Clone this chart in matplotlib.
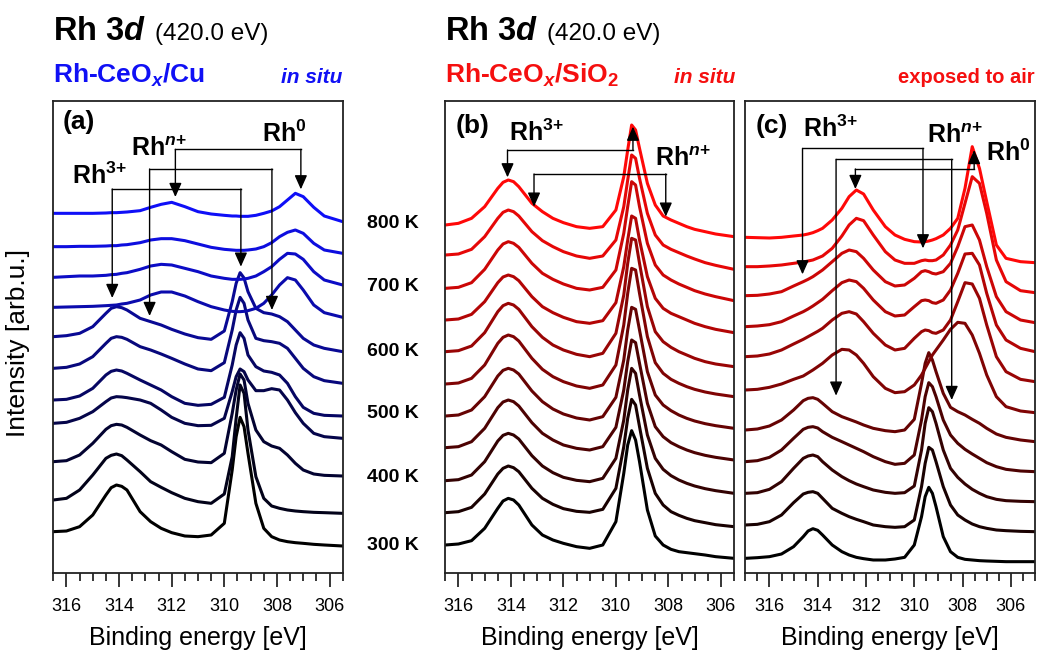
import matplotlib
matplotlib.use("Agg")
import matplotlib.pyplot as plt
from matplotlib.ticker import MultipleLocator

plt.rcParams['font.family'] = ['Liberation Sans', 'DejaVu Sans']
plt.rcParams['mathtext.fontset'] = 'custom'
plt.rcParams['mathtext.rm'] = 'Liberation Sans:bold'
plt.rcParams['mathtext.it'] = 'Liberation Sans:italic:bold'
plt.rcParams['mathtext.bf'] = 'Liberation Sans:bold'
plt.rcParams['mathtext.sf'] = 'Liberation Sans:bold'

# ---------------- data ----------------
temperatures = [800, 750, 700, 650, 600, 550, 500, 450, 400, 350, 300]
temp_labels = ["800 K", "700 K", "600 K", "500 K", "400 K", "300 K"]
tick_values = [316, 314, 312, 310, 308, 306]

energy_ab = [316.5, 316.0, 315.5, 315.0, 314.5, 314.3, 314.1, 313.9, 313.7, 313.2, 312.8, 312.4,
             312.0, 311.5, 311.0, 310.5, 310.0, 309.7, 309.55, 309.4, 309.25, 309.1,
             308.8, 308.5, 308.2, 307.9, 307.6, 307.3, 307.0, 306.6, 306.2, 305.5]

energy_c = [317.0, 316.5, 316.0, 315.5, 315.0, 314.6, 314.4, 314.2, 314.0, 313.8, 313.4, 313.0,
            312.7, 312.4, 312.1, 311.7, 311.2, 310.8, 310.4, 310.0, 309.7, 309.55,
            309.4, 309.25, 309.1, 308.8, 308.5, 308.2, 307.9, 307.6, 307.3, 307.0,
            306.6, 306.2, 305.6, 305.0]

# (a) Rh-CeOx/Cu in situ, 800 K (top) ... 300 K (bottom), stacked intensity
spectra_cu_insitu = [
    [1370,1370,1370,1370,1371,1372,1372,1373,1374,1378,1388,1397,1403,1390,1375,1368,1364,1362,1362,1361,1361,1361,1364,1370,1377,1390,1410,1430,1420,1388,1362,1345],
    [1270,1270,1271,1271,1272,1273,1273,1275,1276,1282,1290,1294,1294,1288,1278,1268,1262,1260,1259,1259,1259,1260,1263,1270,1282,1300,1313,1320,1310,1280,1260,1250],
    [1178,1180,1182,1182,1184,1186,1187,1190,1192,1202,1212,1217,1215,1205,1195,1182,1175,1172,1172,1172,1173,1175,1182,1195,1210,1232,1250,1248,1232,1195,1170,1155],
    [1088,1089,1090,1091,1093,1094,1095,1098,1100,1110,1125,1134,1134,1122,1105,1090,1080,1076,1075,1075,1076,1078,1085,1100,1125,1155,1177,1170,1140,1095,1072,1058],
    [1000,1003,1010,1030,1070,1085,1090,1087,1080,1055,1045,1035,1022,1008,997,992,1017,1105,1160,1192,1176,1135,1085,1072,1068,1060,1045,1020,995,975,965,955],
    [905,908,918,940,980,995,1000,998,992,970,960,948,935,918,903,898,922,1020,1080,1118,1100,1050,995,988,985,980,965,935,905,880,868,860],
    [810,812,822,845,885,896,900,897,890,870,855,840,820,800,794,797,818,915,975,1012,995,945,910,897,893,885,860,820,788,770,764,762],
    [740,743,755,775,805,816,820,819,817,810,800,780,758,740,733,734,755,835,880,903,895,870,838,838,844,840,810,772,740,710,700,695],
    [625,628,645,680,722,733,737,735,728,705,688,675,655,632,624,622,650,770,840,888,870,800,720,685,672,665,645,620,600,588,584,582],
    [510,515,540,585,635,644,648,643,630,595,565,548,532,515,505,500,528,640,755,855,830,720,580,515,492,485,480,477,475,473,472,470],
    [415,417,430,465,525,547,555,551,540,475,445,425,412,402,400,405,440,600,700,758,730,650,500,425,400,390,385,382,380,377,375,372],
]

# (b) Rh-CeOx/SiO2 in situ
spectra_sio2_insitu = [
    [1155,1160,1175,1210,1265,1283,1290,1285,1270,1220,1195,1175,1162,1150,1145,1150,1200,1300,1380,1455,1440,1385,1280,1215,1182,1170,1160,1150,1142,1135,1128,1120],
    [1065,1068,1082,1120,1175,1193,1200,1195,1182,1135,1108,1090,1075,1062,1055,1062,1110,1210,1290,1365,1355,1295,1190,1125,1095,1082,1072,1062,1053,1042,1034,1022],
    [965,968,982,1022,1080,1098,1105,1100,1088,1040,1010,992,978,965,960,968,1020,1130,1210,1285,1275,1210,1100,1035,1005,990,978,968,958,948,940,928],
    [870,873,887,925,982,999,1005,1000,988,940,910,892,878,865,860,868,922,1030,1110,1182,1175,1110,1000,935,905,890,880,870,860,850,842,832],
    [775,778,792,832,895,913,920,915,902,850,818,795,780,767,760,770,830,945,1040,1115,1110,1040,910,835,805,788,775,765,755,745,738,730],
    [678,681,695,735,800,818,825,820,807,755,722,700,685,672,665,675,735,855,950,1025,1020,950,820,742,710,692,680,670,662,654,648,640],
    [582,585,600,640,702,719,725,720,708,657,625,603,588,576,570,580,638,750,840,908,902,840,715,645,615,598,585,575,567,559,553,545],
    [487,490,505,545,607,624,630,625,612,562,530,510,495,485,480,490,548,660,745,810,802,740,620,550,520,502,490,480,472,464,458,450],
    [388,391,405,445,507,524,530,525,513,463,432,412,398,389,385,395,455,570,660,725,710,645,525,455,422,403,390,380,372,364,358,350],
    [292,295,308,348,408,425,432,427,415,365,335,317,304,296,293,302,365,490,575,632,615,550,425,350,315,295,284,275,268,262,256,250],
    [195,198,208,245,305,327,335,330,315,255,225,210,200,190,185,195,265,410,495,538,510,445,300,222,195,182,175,172,169,165,160,155],
]

# (c) Rh-CeOx/SiO2 exposed to air
spectra_sio2_air = [
    [1178,1177,1176,1178,1182,1185,1188,1192,1198,1205,1230,1265,1300,1320,1308,1260,1210,1185,1172,1165,1164,1165,1167,1170,1174,1185,1205,1235,1325,1450,1385,1285,1155,1115,1105,1102],
    [1090,1090,1092,1095,1100,1104,1107,1110,1116,1122,1145,1182,1215,1235,1228,1185,1135,1110,1100,1100,1108,1110,1108,1108,1110,1125,1155,1200,1280,1360,1340,1250,1110,1045,1018,1012],
    [1003,1004,1008,1015,1032,1045,1052,1060,1070,1080,1105,1130,1140,1135,1115,1080,1045,1032,1035,1055,1075,1078,1075,1070,1068,1075,1100,1150,1210,1215,1170,1090,1000,955,930,922],
    [910,912,916,925,942,955,963,972,982,992,1018,1042,1050,1045,1025,990,955,942,945,970,988,990,988,982,980,990,1020,1070,1128,1130,1095,1010,915,870,845,835],
    [820,822,828,840,858,872,880,888,896,905,930,950,955,948,925,890,855,840,845,875,895,900,898,892,890,900,930,985,1042,1038,995,915,820,775,752,745],
    [720,722,728,738,752,762,771,780,790,800,825,842,840,825,800,760,725,712,715,735,765,785,805,825,840,870,902,923,920,885,830,765,700,670,657,652],
    [600,603,612,630,660,688,695,697,692,680,655,640,632,624,615,605,598,595,600,632,740,800,832,810,775,710,668,655,645,632,620,605,588,578,570,565],
    [505,508,518,540,575,602,608,610,606,595,578,565,555,545,535,520,505,497,500,525,630,700,742,730,700,630,585,560,542,528,515,502,490,482,477,475],
    [410,412,422,445,485,515,522,525,520,505,480,460,448,438,430,420,413,410,412,432,540,620,667,655,620,540,485,458,438,422,410,400,392,388,386,385],
    [315,317,325,345,382,408,413,415,410,395,365,350,340,332,325,315,310,308,310,330,430,500,548,540,505,430,375,345,330,318,310,305,300,298,296,295],
    [215,217,220,228,250,280,297,304,299,285,255,235,225,218,214,210,210,213,218,255,340,400,428,410,370,280,235,218,212,210,208,207,206,205,205,205],
]

# ---------------- figure ----------------
W, H = 1039, 657
fig = plt.figure(figsize=(W / 100, H / 100), dpi=100)
fig.patch.set_facecolor('white')

def fx(px):
    return px / W

def fy(py):
    return 1 - py / H

bottom = fy(573)
height = 472 / H
ax_a = fig.add_axes([fx(53.3), bottom, 289.4 / W, height])
ax_b = fig.add_axes([fx(445.3), bottom, 288.7 / W, height])
ax_c = fig.add_axes([fx(745.3), bottom, 289.7 / W, height])

n = len(temperatures)
blues = [(0.06 * (1 - i / (n - 1)), 0.06 * (1 - i / (n - 1)), 0.97 * (1 - i / (n - 1))) for i in range(n)]
reds = [(1.0 * (1 - i / (n - 1)), 0.03 * (1 - i / (n - 1)), 0.03 * (1 - i / (n - 1))) for i in range(n)]

panels = [
    (ax_a, energy_ab, spectra_cu_insitu, blues, (316.5, 305.5), (291, 1707)),
    (ax_b, energy_ab, spectra_sio2_insitu, reds, (316.5, 305.5), (111, 1527)),
    (ax_c, energy_c, spectra_sio2_air, reds, (317.0, 305.0), (171, 1587)),
]

for ax, en, spectra, cols, xl, yl in panels:
    for k in range(n - 1, -1, -1):
        ax.plot(en, spectra[k], color=cols[k], lw=2.2, solid_joinstyle='round',
                solid_capstyle='round')
    ax.set_xlim(*xl)
    ax.set_ylim(*yl)
    ax.set_yticks([])
    ax.set_xticks(tick_values)
    ax.set_xticklabels([str(t) for t in tick_values], fontsize=13)
    ax.xaxis.set_minor_locator(MultipleLocator(0.5))
    ax.tick_params(axis='x', which='major', direction='out', length=10, width=1.1, pad=8)
    ax.tick_params(axis='x', which='minor', direction='out', length=5.5, width=1.1)
    for s in ax.spines.values():
        s.set_linewidth(1.3)
        s.set_color('#222222')

def bracket(ax, e1, e2, yh, tip1, tip2):
    ax.plot([e1, e2], [yh, yh], color='k', lw=1.0)
    for e, t in ((e1, tip1), (e2, tip2)):
        ax.annotate('', xy=(e, t), xytext=(e, yh),
                    arrowprops=dict(arrowstyle='-|>,head_length=0.85,head_width=0.38',
                                    color='k', lw=1.0, shrinkA=0, shrinkB=0))

lab = dict(fontsize=18, fontweight='bold', va='baseline', ha='left')
R3 = r'Rh$^{3{+}}$'
RN = r'Rh$^{n{+}}$'
R0 = r'Rh$^{0}$'
# panel (a)
ax_a.text(316.13, 1623, '(a)', fontsize=19, fontweight='bold', va='baseline')
ax_a.text(308.57, 1585, R0, **lab)
ax_a.text(313.54, 1543, RN, **lab)
ax_a.text(315.78, 1458, R3, **lab)
bracket(ax_a, 311.86, 307.09, 1562, 1419, 1442)
bracket(ax_a, 312.84, 308.19, 1503, 1062, 1080)
bracket(ax_a, 314.26, 309.37, 1443, 1116, 1210)
# panel (b)
ax_b.text(316.09, 1432, '(b)', fontsize=19, fontweight='bold', va='baseline')
ax_b.text(314.07, 1408, R3, **lab)
ax_b.text(308.5, 1332, RN, **lab)
bracket(ax_b, 314.13, 309.35, 1380, 1298, 1450)
bracket(ax_b, 313.12, 308.10, 1308, 1210, 1180)
# panel (c)
ax_c.text(316.59, 1490, '(c)', fontsize=19, fontweight='bold', va='baseline')
ax_c.text(314.59, 1480, R3, **lab)
ax_c.text(309.46, 1460, RN, **lab)
ax_c.text(307.04, 1408, R0, **lab)
bracket(ax_c, 314.63, 309.64, 1445, 1067, 1145)
bracket(ax_c, 313.24, 308.45, 1412, 703, 690)
bracket(ax_c, 312.44, 307.52, 1383, 1323, 1440)

# headers
blue = '#1010f5'
red = '#f50f0f'
for x0 in (53, 445):
    fig.text(fx(x0), fy(40), r'Rh 3$d$', fontsize=23.5, fontweight='bold', va='baseline')
    fig.text(fx(x0 + 102), fy(40), '(420.0 eV)', fontsize=17.5, va='baseline')
fig.text(fx(53), fy(83), r'Rh-CeO$_{x}$/Cu', fontsize=19, fontweight='bold', color=blue, va='baseline')
fig.text(fx(342), fy(83), 'in situ', fontsize=15, fontweight='bold', style='italic', color=blue, va='baseline', ha='right')
fig.text(fx(445), fy(83), r'Rh-CeO$_{x}$/SiO$_{2}$', fontsize=19, fontweight='bold', color=red, va='baseline')
fig.text(fx(735), fy(83), 'in situ', fontsize=15, fontweight='bold', style='italic', color=red, va='baseline', ha='right')
fig.text(fx(1035), fy(83), 'exposed to air', fontsize=14.5, fontweight='bold', color=red, va='baseline', ha='right')

# temperature labels
for lbl, py in zip(temp_labels, [224, 287, 351, 414, 478, 545]):
    fig.text(fx(393), fy(py), lbl, fontsize=14, fontweight='bold', ha='center', va='center')

# axis labels
fig.text(fx(18), fy(343), 'Intensity [arb.u.]', fontsize=19, rotation=90, ha='center', va='center')
for cx in ((53.3 + 342.7) / 2, (445.3 + 734) / 2, (745.3 + 1035) / 2):
    fig.text(fx(cx), fy(638), 'Binding energy [eV]', fontsize=18, ha='center', va='center')

fig.savefig('out.png', dpi=100, facecolor='white')
